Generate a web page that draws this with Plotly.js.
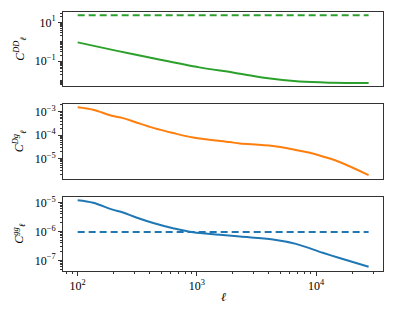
<!DOCTYPE html>
<html>
<head>
<meta charset="utf-8">
<script src="https://cdn.plot.ly/plotly-3.0.1.min.js"></script>
<style>html,body{margin:0;padding:0;background:#fff;}#chart{width:395px;height:314px;}</style>
</head>
<body>
<div id="chart"></div>
<script>
// ---- data ----
const ellDD = [100, 214, 400, 1050, 2000, 3800, 7240, 13800, 27500];
const clDD = [0.93, 0.34, 0.155, 0.048, 0.026, 0.0135, 0.0089, 0.0078, 0.0076];
const ellNoiseDD = [100, 27500];
const noiseDD = [23, 23];

const ellDg = [100, 135, 193, 240, 310, 430, 630, 930, 1880, 2290, 4340, 8240, 11350, 15670, 27500];
const clDg = [1.58e-3, 1.23e-3, 6.8e-4, 5.4e-4, 3.5e-4, 2.04e-4, 1.23e-4, 7.9e-5, 5.0e-5, 4.4e-5, 3.4e-5, 1.86e-5, 1.2e-5, 7.0e-6, 1.9e-6];

const ellgg = [100, 135, 193, 240, 310, 430, 630, 930, 1550, 2290, 4340, 6760, 11350, 15670, 27500];
const clgg = [1.2e-5, 9.8e-6, 5.75e-6, 4.47e-6, 3.02e-6, 1.95e-6, 1.29e-6, 9.3e-7, 7.7e-7, 6.6e-7, 5.25e-7, 3.7e-7, 1.82e-7, 1.2e-7, 6.0e-8];
const ellNoisegg = [100, 27500];
const noisegg = [9.5e-7, 9.5e-7];

const xTickVals = [100, 1000, 10000];
const xTickText = ["10<sup>2</sup>", "10<sup>3</sup>", "10<sup>4</sup>"];
const y1TickVals = [10, 0.1];
const y1TickText = ["10<sup>1</sup>", "10<sup>−1</sup>"];
const y2TickVals = [1e-3, 1e-4, 1e-5];
const y2TickText = ["10<sup>−3</sup>", "10<sup>−4</sup>", "10<sup>−5</sup>"];
const y3TickVals = [1e-5, 1e-6, 1e-7];
const y3TickText = ["10<sup>−5</sup>", "10<sup>−6</sup>", "10<sup>−7</sup>"];

const green = '#2ca02c', orange = '#ff7f0e', blue = '#1f77b4';
const dashStyle = '7px,4px';

const traces = [
  {x: ellDD, y: clDD, xaxis: 'x3', yaxis: 'y3', mode: 'lines', line: {color: green, width: 2, shape: 'spline'}},
  {x: ellNoiseDD, y: noiseDD, xaxis: 'x3', yaxis: 'y3', mode: 'lines', line: {color: green, width: 2, dash: dashStyle}},
  {x: ellDg, y: clDg, xaxis: 'x2', yaxis: 'y2', mode: 'lines', line: {color: orange, width: 2, shape: 'spline'}},
  {x: ellgg, y: clgg, xaxis: 'x', yaxis: 'y', mode: 'lines', line: {color: blue, width: 2, shape: 'spline'}},
  {x: ellNoisegg, y: noisegg, xaxis: 'x', yaxis: 'y', mode: 'lines', line: {color: blue, width: 2, dash: dashStyle}}
];

const tickFont = {family: 'Liberation Serif, DejaVu Serif, serif', size: 12, color: '#000'};
const xr = [1.877, 4.56];
function xAxis(anchor, showLabels) {
  return {
    type: 'log', range: xr, anchor: anchor,
    showline: true, mirror: true, linecolor: '#333', linewidth: 1,
    showgrid: false, zeroline: false,
    ticks: showLabels ? 'outside' : '', ticklen: 4, tickcolor: '#333',
    showticklabels: showLabels,
    tickvals: xTickVals, ticktext: xTickText, tickfont: tickFont,
    minor: showLabels ? {ticks: 'outside', ticklen: 2, tickcolor: '#333', dtick: 'D1', showgrid: false} : undefined
  };
}
function yAxis(anchor, domain, range, tv, tt) {
  return {
    type: 'log', range: range, domain: domain, anchor: anchor,
    showline: true, mirror: true, linecolor: '#333', linewidth: 1,
    showgrid: false, zeroline: false,
    ticks: 'outside', ticklen: 4, tickcolor: '#333',
    tickvals: tv, ticktext: tt, tickfont: tickFont,
    minor: {ticks: 'outside', ticklen: 2, tickcolor: '#333', dtick: 'D1', showgrid: false}
  };
}

const labFont = {family: 'Liberation Serif, DejaVu Serif, serif', size: 12, color: '#000'};
const layout = {
  width: 395, height: 314,
  margin: {l: 63, r: 12, t: 12, b: 43},
  paper_bgcolor: '#fff', plot_bgcolor: '#fff',
  showlegend: false,
  xaxis: xAxis('y', true),
  xaxis2: xAxis('y2', false),
  xaxis3: xAxis('y3', false),
  yaxis: yAxis('x', [0, 0.287], [-7.37, -4.80], y3TickVals, y3TickText),
  yaxis2: yAxis('x2', [0.356, 0.644], [-5.88, -2.67], y2TickVals, y2TickText),
  yaxis3: yAxis('x3', [0.714, 1], [-2.28, 1.53], y1TickVals, y1TickText),
  annotations: [
    {text: '<i>C</i><sup><i>DD</i></sup><sub><i>ℓ</i></sub>', xref: 'paper', yref: 'paper', x: -0.135, y: 0.857, textangle: -90, showarrow: false, font: labFont, xanchor: 'center', yanchor: 'middle'},
    {text: '<i>C</i><sup><i>Dg</i></sup><sub><i>ℓ</i></sub>', xref: 'paper', yref: 'paper', x: -0.135, y: 0.5, textangle: -90, showarrow: false, font: labFont, xanchor: 'center', yanchor: 'middle'},
    {text: '<i>C</i><sup><i>gg</i></sup><sub><i>ℓ</i></sub>', xref: 'paper', yref: 'paper', x: -0.135, y: 0.143, textangle: -90, showarrow: false, font: labFont, xanchor: 'center', yanchor: 'middle'},
    {text: '<i>ℓ</i>', xref: 'paper', yref: 'paper', x: 0.5, y: -0.1, showarrow: false, font: labFont, xanchor: 'center', yanchor: 'middle'}
  ]
};

Plotly.newPlot('chart', traces, layout, {staticPlot: true, displayModeBar: false});
</script>
</body>
</html>
